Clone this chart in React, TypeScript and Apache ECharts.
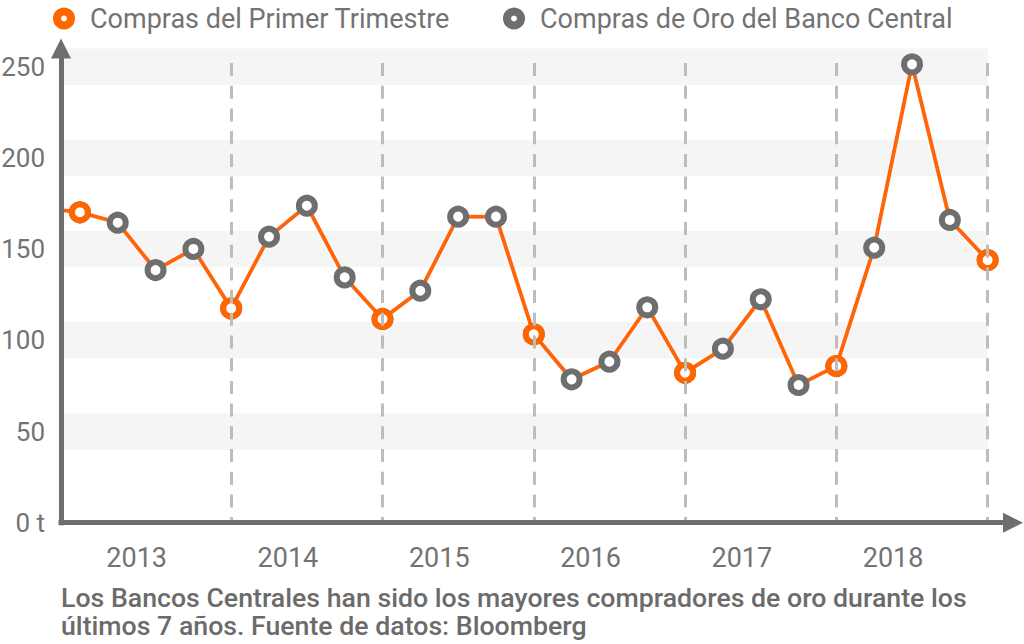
import React, { useEffect, useRef } from 'react';
import * as echarts from 'echarts';

// Quarterly gold purchases by central banks (tonnes). First entry lies left of the axis (clipped).
const quarters = [
  '2012-T4',
  '2013-T1', '2013-T2', '2013-T3', '2013-T4',
  '2014-T1', '2014-T2', '2014-T3', '2014-T4',
  '2015-T1', '2015-T2', '2015-T3', '2015-T4',
  '2016-T1', '2016-T2', '2016-T3', '2016-T4',
  '2017-T1', '2017-T2', '2017-T3', '2017-T4',
  '2018-T1', '2018-T2', '2018-T3', '2018-T4',
  '2019-T1',
];
const purchases = [
  172.5,
  170.2, 164.5, 138.5, 150.1,
  117.5, 156.8, 173.8, 134.5,
  111.7, 127.2, 167.8, 167.8,
  103.3, 78.6, 88.3, 118.1,
  82.2, 95.4, 122.5, 75.5,
  85.9, 150.8, 251.3, 166.0,
  144.0,
];
const years = ['2013', '2014', '2015', '2016', '2017', '2018'];
const yTicks = [0, 50, 100, 150, 200, 250];
const seriesNames = ['Compras del Primer Trimestre', 'Compras de Oro del Banco Central'];
const footnote = [
  'Los Bancos Centrales han sido los mayores compradores de oro durante los',
  'últimos 7 años. Fuente de datos: Bloomberg',
];

const ORANGE = '#ff6600';
const GREY = '#6e6e6e';
const TEXT = '#737373';

export default function App() {
  const ref = useRef<HTMLDivElement>(null);
  useEffect(() => {
    if (!ref.current) return;
    const chart = echarts.init(ref.current, null, { renderer: 'svg' });

    // x position: index relative to first quarter of 2013
    const pts = quarters.map((q, i) => [i - 1, purchases[i]]);
    const q1pts = pts.filter((_, i) => quarters[i].endsWith('T1'));
    const yearStarts = q1pts.map((p) => p[0]).filter((x) => x > 0);
    const lastX = pts[pts.length - 1][0];
    const yearLabelPos = years.map((_, k) => k * 4 + 1.5);
    const bandTicks = yTicks.filter((t) => t > 0);

    const legendCommon = {
      top: 0,
      itemWidth: 42,
      itemHeight: 14,
      selectedMode: false,
      textStyle: { fontSize: 27, color: TEXT, fontFamily: 'Roboto', lineHeight: 24 },
    };
    const footStyle = { fontSize: 26.7, fontWeight: 500, color: '#6b6b6b', lineHeight: 27, fontFamily: 'Roboto' };
    const axisLineStyle = { color: GREY, width: 5, cap: 'square' };

    chart.setOption({
      animation: false,
      textStyle: { fontFamily: 'Roboto' },
      grid: { left: 61, right: 11, top: 48.5, bottom: 121.3, containLabel: false, outerBoundsMode: 'none' },
      title: {
        text: footnote[0],
        subtext: footnote[1],
        left: 61,
        top: 584,
        padding: 0,
        itemGap: 1,
        textStyle: footStyle,
        subtextStyle: footStyle,
      },
      legend: [
        {
          ...legendCommon,
          left: 48,
          data: [{ name: seriesNames[0], icon: 'circle', itemStyle: { color: '#fff', borderColor: ORANGE, borderWidth: 8 } }],
        },
        {
          ...legendCommon,
          left: 498,
          data: [{ name: seriesNames[1], icon: 'circle', itemStyle: { color: '#fff', borderColor: GREY, borderWidth: 8 } }],
        },
      ],
      xAxis: {
        type: 'value',
        min: -0.5,
        max: 24.67,
        z: 10,
        axisLine: {
          show: true,
          onZero: false,
          symbol: ['none', 'triangle'],
          symbolSize: [20, 20],
          lineStyle: axisLineStyle,
        },
        axisTick: { show: false },
        splitLine: { show: false },
        axisLabel: {
          customValues: yearLabelPos,
          formatter: (v: number) => years[Math.round((v - 1.5) / 4)] ?? '',
          fontSize: 27,
          color: TEXT,
          margin: 22,
        },
      },
      yAxis: {
        type: 'value',
        min: 0,
        max: 260,
        interval: 50,
        z: 10,
        axisLine: {
          show: true,
          onZero: false,
          symbol: ['none', 'triangle'],
          symbolSize: [20, 20],
          lineStyle: axisLineStyle,
        },
        axisTick: { show: false },
        splitLine: { show: false },
        axisLabel: {
          showMaxLabel: false,
          formatter: (v: number) => (yTicks.includes(v) ? (v === 0 ? '0 t' : String(v)) : ''),
          fontSize: 26,
          color: TEXT,
          margin: 16,
        },
      },
      series: [
        {
          name: seriesNames[1],
          type: 'line',
          data: pts,
          clip: true,
          z: 3,
          symbol: 'circle',
          symbolSize: 16,
          itemStyle: { color: '#fff', borderColor: GREY, borderWidth: 6 },
          lineStyle: { color: ORANGE, width: 4, shadowColor: 'rgba(255,255,255,0.9)', shadowBlur: 3 },
          emphasis: { disabled: true },
          markArea: {
            silent: true,
            itemStyle: { color: '#f5f5f5' },
            data: bandTicks.map((t) => [{ coord: [-0.5, t - 10] }, { coord: [lastX, t + 10] }]),
          },
          markLine: {
            silent: true,
            symbol: ['none', 'none'],
            label: { show: false },
            lineStyle: { color: '#bdbdbd', width: 3, type: [13, 9.7] },
            data: yearStarts.map((x) => [{ coord: [x, 252] }, { coord: [x, 0] }]),
          },
        },
        {
          name: seriesNames[0],
          type: 'scatter',
          data: q1pts,
          z: 4,
          symbol: 'circle',
          symbolSize: 16,
          itemStyle: { color: '#fff', borderColor: ORANGE, borderWidth: 6, opacity: 1 },
          emphasis: { disabled: true },
        },
      ],
    });
    return () => chart.dispose();
  }, []);

  return <div ref={ref} style={{ position: 'absolute', left: 0, top: 0, width: 1024, height: 644 }} />;
}
